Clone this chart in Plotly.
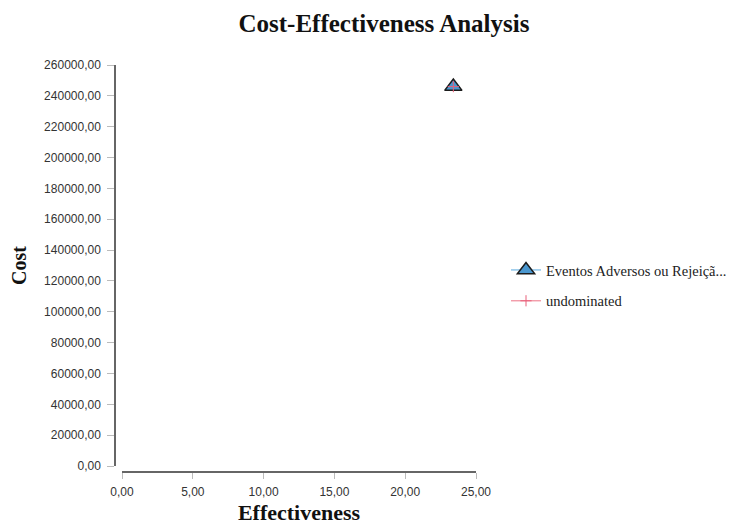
import plotly.graph_objects as go

series_names = ["Eventos Adversos ou Rejeiçã...", "undominated"]
effectiveness = [23.4]
cost = [246000.0]
undominated_eff = [23.4]
undominated_cost = [246000.0]
x_ticks = [0, 5, 10, 15, 20, 25]
y_ticks = [0, 20000, 40000, 60000, 80000, 100000, 120000, 140000, 160000,
           180000, 200000, 220000, 240000, 260000]

# the page body adds an 8px margin, so the figure is 8px smaller each way
W, H = 748, 517
ml, mr, mt, mb = 107, 280, 57, 53
pw = W - ml - mr
ph = H - mt - mb

fig = go.Figure()
fig.add_trace(go.Scatter(
    x=effectiveness, y=cost, name=series_names[0], mode="lines+markers",
    legendgroup="a",
    line=dict(color="#8ec5ea", width=1.5),
    marker=dict(symbol="triangle-up", size=15, color="#4a97cf",
                line=dict(color="#1c1c1c", width=1.5)),
    cliponaxis=False,
))
fig.add_trace(go.Scatter(
    x=undominated_eff, y=undominated_cost, name=series_names[1], mode="lines+markers",
    legendgroup="b",
    line=dict(color="#f08a99", width=1.2),
    marker=dict(symbol="cross-thin", size=8, color="#e8607a",
                line=dict(color="#e8607a", width=1)),
    cliponaxis=False,
))

serif = "Liberation Serif, Times New Roman, serif"
sans = "Liberation Sans, Arial, sans-serif"

fig.update_layout(
    width=W, height=H,
    margin=dict(l=ml, r=mr, t=mt, b=mb, autoexpand=False),
    paper_bgcolor="white", plot_bgcolor="white",
    separators=",.",
    title=dict(text="<b>Cost-Effectiveness Analysis</b>", x=376 / W, xref="container",
               xanchor="center", y=1 - 15 / H, yanchor="middle", yref="container",
               font=dict(family=serif, size=25, color="#111")),
    xaxis=dict(range=[0, 25], domain=[7 / pw, 1], anchor="free", position=0,
               automargin=False,
               tickvals=x_ticks, tickformat=".2f", showgrid=False, zeroline=False,
               showline=True, linecolor="#666", linewidth=1.5,
               ticks="outside", ticklen=6, tickcolor="#bbb", tickwidth=1,
               ticklabelstandoff=3,
               tickfont=dict(family=sans, size=12, color="#333"),
               title=dict(text="<b>Effectiveness</b>", standoff=8,
                          font=dict(family=serif, size=22, color="#111"))),
    yaxis=dict(range=[0, 260000], domain=[6 / ph, 1], anchor="free", position=0,
               automargin=False,
               tickvals=y_ticks, tickformat=".2f", showgrid=False, zeroline=False,
               showline=True, linecolor="#666", linewidth=1.5,
               ticks="outside", ticklen=7, tickcolor="#bbb", tickwidth=1,
               ticklabelstandoff=4,
               tickfont=dict(family=sans, size=12, color="#333"),
               title=dict(text="<b>Cost</b>", standoff=15,
                          font=dict(family=serif, size=20, color="#111"))),
    showlegend=True,
    legend=dict(x=(498 - ml) / pw, y=(H - mb - 246) / ph, xanchor="left", yanchor="top",
                font=dict(family=serif, size=14.5, color="#222"),
                bgcolor="rgba(0,0,0,0)", tracegroupgap=9),
)

fig.write_html("out.html")
